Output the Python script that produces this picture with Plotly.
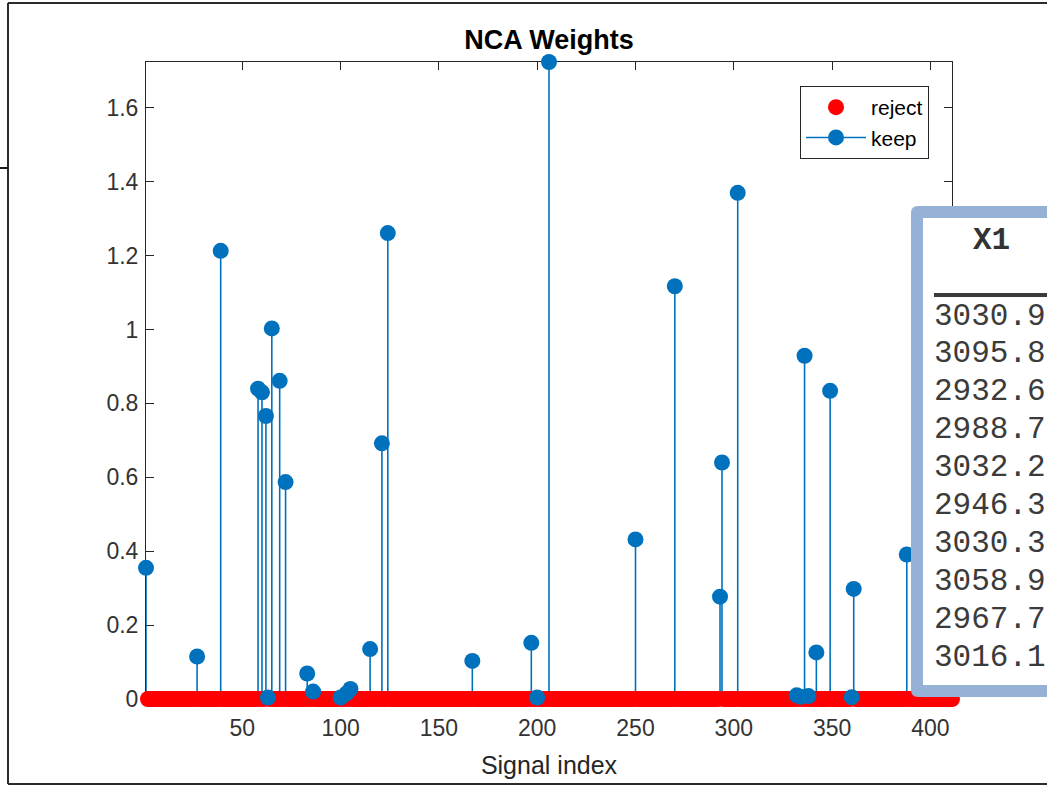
import plotly.graph_objects as go

# ---------------- data ----------------
n_features = 411
keep_idx = [1, 27, 39, 58, 60, 62, 63, 65, 69, 72, 83, 86, 100, 103, 105, 115, 121, 124,
            167, 197, 200, 206, 250, 270, 293, 294, 302, 332, 334, 336, 338, 342, 349,
            360, 361, 388]
keep_w = [0.355, 0.115, 1.213, 0.840, 0.830, 0.766, 0.004, 1.003, 0.861, 0.587, 0.069, 0.020,
          0.004, 0.015, 0.027, 0.135, 0.692, 1.261, 0.103, 0.152, 0.004, 1.724, 0.432, 1.117,
          0.277, 0.640, 1.370, 0.010, 0.006, 0.929, 0.008, 0.126, 0.834, 0.005, 0.298, 0.391]
reject_idx = [i for i in range(1, n_features + 1) if i not in keep_idx]
reject_w = [0.0 for _ in reject_idx]

x_ticks = [50, 100, 150, 200, 250, 300, 350, 400]
y_ticks = [0, 0.2, 0.4, 0.6, 0.8, 1.0, 1.2, 1.4, 1.6]
y_tick_text = ["0", "0.2", "0.4", "0.6", "0.8", "1", "1.2", "1.4", "1.6"]

table_header = "X1"
table_values = ["3030.9", "3095.8", "2932.6", "2988.7", "3032.2",
                "2946.3", "3030.3", "3058.9", "2967.7", "3016.1"]

# ---------------- layout geometry (pixels) ----------------
W, H = 1047, 787
L, R, T, B = 146, 952, 62, 699
PW, PH = R - L, B - T


def px(x):
    return (x - L) / PW


def py(y):
    return (B - y) / PH


BLUE = "#0072BD"
RED = "#FF0000"
AX = "#262626"

# stems built from the data arrays
stem_x, stem_y = [], []
for xi, yi in zip(keep_idx, keep_w):
    stem_x += [xi, xi, None]
    stem_y += [0, yi, None]

fig = go.Figure()
fig.add_trace(go.Scatter(x=stem_x, y=stem_y, mode="lines",
                         line=dict(color=BLUE, width=1.6),
                         showlegend=False, hoverinfo="skip"))
fig.add_trace(go.Scatter(x=reject_idx, y=reject_w, mode="markers", name="reject",
                         marker=dict(color=RED, size=16, line=dict(width=0)),
                         cliponaxis=False))
fig.add_trace(go.Scatter(x=keep_idx, y=keep_w, mode="markers", name="keep",
                         marker=dict(color=BLUE, size=16, line=dict(width=0)),
                         cliponaxis=False, showlegend=False))
# legend entry for the stem series (line + marker)
fig.add_trace(go.Scatter(x=[None], y=[None], mode="lines+markers", name="keep",
                         line=dict(color=BLUE, width=1.6),
                         marker=dict(color=BLUE, size=16)))

shapes = []
# outer figure frame
frame = dict(color="#2b2b2b", width=2)
shapes.append(dict(type="line", xref="paper", yref="paper", x0=px(8), x1=px(1060), y0=py(3), y1=py(3),
                   line=frame, layer="above"))
shapes.append(dict(type="line", xref="paper", yref="paper", x0=px(8), x1=px(1060), y0=py(784), y1=py(784),
                   line=frame, layer="above"))
shapes.append(dict(type="line", xref="paper", yref="paper", x0=px(8), x1=px(8), y0=py(3), y1=py(784),
                   line=frame, layer="above"))
shapes.append(dict(type="line", xref="paper", yref="paper", x0=px(-5), x1=px(8), y0=py(168), y1=py(168),
                   line=dict(color="#1a1a1a", width=2), layer="above"))

# variable-table panel (rounded light-blue frame)
x0, x1, y0, y1, r = 911, 1070, 206, 697, 7
path = f"M {px(x0 + r)},{py(y0)} L {px(x1)},{py(y0)} L {px(x1)},{py(y1)} L {px(x0 + r)},{py(y1)} " \
       f"Q {px(x0)},{py(y1)} {px(x0)},{py(y1 - r)} L {px(x0)},{py(y0 + r)} " \
       f"Q {px(x0)},{py(y0)} {px(x0 + r)},{py(y0)} Z"
shapes.append(dict(type="path", xref="paper", yref="paper", path=path,
                   fillcolor="#95B1D6", line=dict(width=0), layer="above"))
shapes.append(dict(type="rect", xref="paper", yref="paper", x0=px(923), x1=px(1070), y0=py(218), y1=py(685),
                   fillcolor="white", line=dict(width=0), layer="above"))
shapes.append(dict(type="line", xref="paper", yref="paper", x0=px(934), x1=px(1070), y0=py(295), y1=py(295),
                   line=dict(color="#3a3a3a", width=4), layer="above"))

MONO = "Liberation Mono, DejaVu Sans Mono, monospace"
annotations = [dict(text=f"<b>{table_header}</b>", xref="paper", yref="paper", x=px(991), y=py(240),
                    xanchor="center", yanchor="middle", showarrow=False,
                    font=dict(family=MONO, size=31, color="#333333"))]
row_y0, row_dy = 316, 37.9
for i, v in enumerate(table_values):
    annotations.append(dict(text=v, xref="paper", yref="paper", x=px(932), y=py(row_y0 + i * row_dy),
                            xanchor="left", yanchor="middle", showarrow=False,
                            font=dict(family=MONO, size=31, color="#3b3b3b")))

fig.update_layout(
    width=W, height=H,
    margin=dict(l=L, r=W - R, t=T, b=H - B, pad=0),
    paper_bgcolor="white", plot_bgcolor="white",
    font=dict(family="Liberation Sans, Arial, sans-serif", color=AX),
    title=dict(text="<b>NCA Weights</b>", x=px(549), xref="paper", xanchor="center",
               y=1 - 40 / H, yref="container", yanchor="middle",
               font=dict(size=27, color="#000000")),
    xaxis=dict(range=[1, n_features], tickvals=x_ticks, ticks="inside", ticklen=8, tickwidth=1,
               tickcolor=AX, showline=True, linecolor=AX, linewidth=1, mirror="ticks",
               showgrid=False, zeroline=False, layer="below traces",
               tickfont=dict(size=23, color="#333333"), ticklabelstandoff=8,
               title=dict(text="Signal index", font=dict(size=25, color="#262626"), standoff=16)),
    yaxis=dict(range=[0, 1.724], tickvals=y_ticks, ticktext=y_tick_text, ticks="inside", ticklen=8,
               tickwidth=1, tickcolor=AX, showline=True, linecolor=AX, linewidth=1, mirror="ticks",
               showgrid=False, zeroline=False, layer="below traces",
               tickfont=dict(size=23, color="#333333"), ticklabelstandoff=2),
    legend=dict(x=px(929), y=py(86), xanchor="right", yanchor="top", bgcolor="white",
                bordercolor="#262626", borderwidth=1, font=dict(size=21, color="#000000"),
                itemwidth=60, tracegroupgap=0),
    shapes=shapes,
    annotations=annotations,
    showlegend=True,
)

fig.write_html("out.html", config={"displayModeBar": False},
               post_script="document.body.style.margin='0';document.body.style.overflow='hidden';")
